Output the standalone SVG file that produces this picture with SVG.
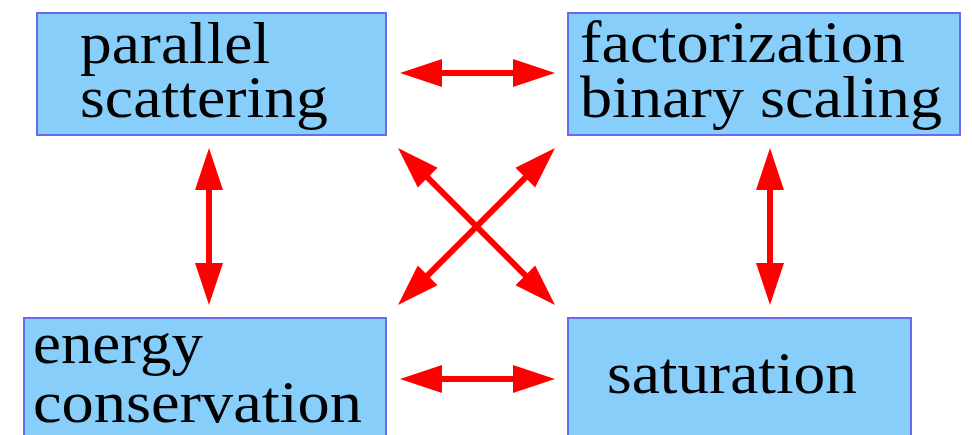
<svg xmlns="http://www.w3.org/2000/svg" width="972" height="435" viewBox="0 0 972 435">
  <style>
    .box { fill: #87cefa; stroke: #6a6af0; stroke-width: 2; }
    .lbl { font-family: "Liberation Serif", "Times New Roman", serif; font-size: 60px; fill: #000; }
    .conn { stroke: #ff0000; stroke-width: 6; fill: none; marker-start: url(#ah); marker-end: url(#ah); }
  </style>
  <defs>
    <marker id="ah" markerUnits="userSpaceOnUse" markerWidth="44" markerHeight="30" viewBox="0 -15 44 30" refX="12" refY="0" orient="auto-start-reverse">
      <path d="M0,-14 L42,0 L0,14 z" fill="#ff0000"/>
    </marker>
  </defs>
  <rect width="972" height="435" fill="#ffffff"/>
  <g id="node-parallel-scattering">
    <rect class="box" x="37" y="13" width="349" height="122"/>
    <text class="lbl" x="80" y="63" textLength="190" lengthAdjust="spacingAndGlyphs">parallel</text>
    <text class="lbl" x="80" y="117" textLength="248" lengthAdjust="spacingAndGlyphs">scattering</text>
  </g>
  <g id="node-factorization">
    <rect class="box" x="568" y="13" width="392" height="122"/>
    <text class="lbl" x="580" y="62" textLength="325" lengthAdjust="spacingAndGlyphs">factorization</text>
    <text class="lbl" x="580" y="117" textLength="362" lengthAdjust="spacingAndGlyphs">binary scaling</text>
  </g>
  <g id="node-energy-conservation">
    <rect class="box" x="24" y="318" width="362" height="130"/>
    <text class="lbl" x="33" y="363" textLength="170" lengthAdjust="spacingAndGlyphs">energy</text>
    <text class="lbl" x="33" y="422" textLength="329" lengthAdjust="spacingAndGlyphs">conservation</text>
  </g>
  <g id="node-saturation">
    <rect class="box" x="568" y="318" width="343" height="130"/>
    <text class="lbl" x="607" y="393" textLength="250" lengthAdjust="spacingAndGlyphs">saturation</text>
  </g>
  <g id="connectors">
    <line class="conn" x1="430" y1="73" x2="525" y2="73"/>
    <line class="conn" x1="430" y1="379" x2="525" y2="379"/>
    <line class="conn" x1="209" y1="178" x2="209" y2="275"/>
    <line class="conn" x1="770" y1="178" x2="770" y2="275"/>
    <line class="conn" x1="419.2" y1="169.2" x2="533.8" y2="283.8"/>
    <line class="conn" x1="533.8" y1="169.2" x2="419.2" y2="283.8"/>
  </g>
</svg>
